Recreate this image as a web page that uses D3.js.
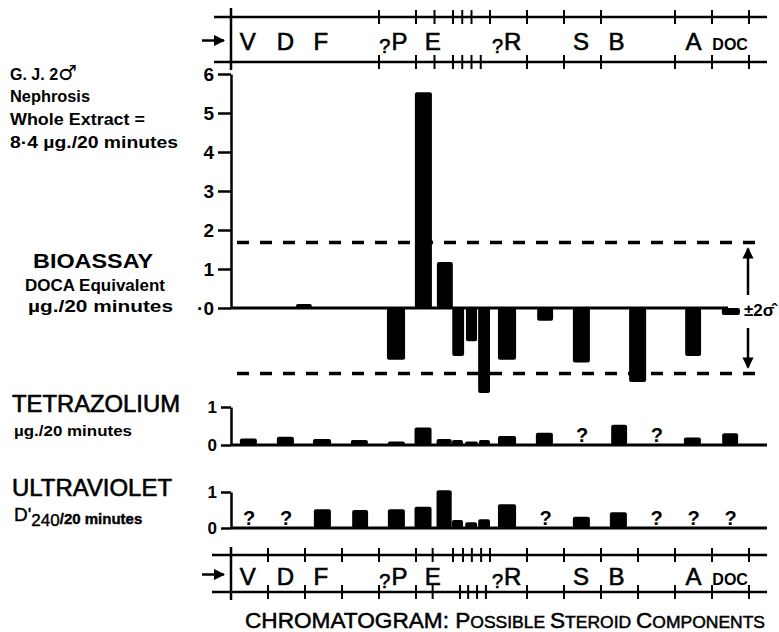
<!DOCTYPE html>
<html>
<head>
<meta charset="utf-8">
<script src="https://cdn.jsdelivr.net/npm/d3@7"></script>
<style>
body { margin: 0; background: #fff; }
svg { font-family: "Liberation Sans", Arial, sans-serif; }
</style>
</head>
<body>
<div id="chart"></div>
<script>
// Chromatogram positions are in strip units (one unit = one main tick interval)

// Component labels along the chromatogram strips
const stripLabels = ["V", "D", "F", "?P", "E", "?R", "S", "B", "A", "DOC"];
const stripLabelPos = [0.45, 1.47, 2.43, 4.39, 5.45, 7.45, 9.46, 10.42, 12.5, 13.49];

// Tick marks on the strips (top strip is missing some of them)
const topStripUpperTicks = [4, 5, 5.5, 6, 6.25, 6.5, 7, 8, 9, 10, 12, 13, 14];
const topStripLowerTicks = [4, 5, 5.5, 6, 6.25, 6.5, 6.75, 8, 9, 10, 12, 13, 14];
const botStripUpperTicks = [1, 2, 3, 4, 5, 5.45, 6, 6.27, 6.51, 6.76, 7, 8, 9, 10, 11, 12, 13, 14];
const botStripLowerTicks = [1, 2, 3, 4, 5, 5.45, 6.19, 6.41, 6.65, 6.89, 8, 9, 10, 11, 12, 13, 14];

// Bioassay (DOCA equivalent, ug/20 minutes)
const bioPos = [1.97, 4.46, 5.2, 5.78, 6.14, 6.5, 6.84, 7.46, 8.49, 9.47, 10.99, 12.49, 13.51];
const bioWidth = [0.43, 0.49, 0.46, 0.43, 0.32, 0.3, 0.32, 0.49, 0.43, 0.46, 0.46, 0.43, 0.49];
const bioValues = [0.1, -1.33, 5.53, 1.18, -1.23, -0.85, -2.18, -1.33, -0.33, -1.4, -1.9, -1.23, -0.18];
const bioTicks = [0, 1, 2, 3, 4, 5, 6];
const bioMinorTicks = [0.5, 1.5, 2.5, 3.5, 4.5, 5.5];
const twoSigma = 1.68;

// Tetrazolium (ug/20 minutes)
const tetraPos = [0.47, 1.47, 2.46, 3.47, 4.47, 5.19, 5.76, 6.12, 6.5, 6.85, 7.46, 8.47, 10.49, 12.47, 13.49];
const tetraWidth = [0.46, 0.46, 0.49, 0.46, 0.46, 0.46, 0.41, 0.3, 0.35, 0.3, 0.49, 0.46, 0.43, 0.46, 0.43];
const tetraValues = [0.17, 0.22, 0.16, 0.13, 0.09, 0.46, 0.16, 0.13, 0.09, 0.13, 0.24, 0.32, 0.53, 0.2, 0.31];
const tetraUnknown = [9.49, 11.51];

// Ultraviolet (D'240/20 minutes)
const uvPos = [2.47, 3.49, 4.47, 5.19, 5.76, 6.12, 6.49, 6.84, 7.46, 9.47, 10.47];
const uvWidth = [0.46, 0.43, 0.46, 0.46, 0.41, 0.3, 0.32, 0.32, 0.49, 0.46, 0.46];
const uvValues = [0.52, 0.5, 0.52, 0.59, 1.05, 0.22, 0.16, 0.24, 0.66, 0.31, 0.44];
const uvUnknown = [0.49, 1.49, 8.5, 11.5, 12.5, 13.5];

const smallTicks = [0, 1];
const smallMinorTicks = [0.5];

const width = 779, height = 632;

let svg = d3.select("#chart").append("svg")
    .attr("width", width)
    .attr("height", height);

svg.append("defs").append("marker")
    .attr("id", "head")
    .attr("viewBox", "0 0 10 10")
    .attr("refX", 9).attr("refY", 5)
    .attr("markerWidth", 4.5).attr("markerHeight", 4.5)
    .attr("markerUnits", "strokeWidth")
    .attr("orient", "auto")
    .append("path").attr("d", "M0,0L10,5L0,10Z").attr("fill", "#000");

// Shared x scale along the chromatogram
let x = d3.scaleLinear().domain([0, 14]).range([231, 749]);

// Draw one chromatogram strip with its labels
function drawStrip(y0, y1, upperTicks, lowerTicks, labelY, vTop, vBottom, lineStart) {
    let g = svg.append("g");
    [y0, y1].forEach(y => {
        g.append("line").attr("x1", lineStart).attr("x2", 767).attr("y1", y).attr("y2", y)
            .attr("stroke", "#000").attr("stroke-width", 2.5);
    });
    g.append("line").attr("x1", x(0)).attr("x2", x(0)).attr("y1", vTop).attr("y2", vBottom)
        .attr("stroke", "#000").attr("stroke-width", 2.5);
    g.selectAll(".tu").data(upperTicks).join("line")
        .attr("x1", d => x(d)).attr("x2", d => x(d))
        .attr("y1", y0 - 7).attr("y2", y0 + 7)
        .attr("stroke", "#000").attr("stroke-width", 2);
    g.selectAll(".tl").data(lowerTicks).join("line")
        .attr("x1", d => x(d)).attr("x2", d => x(d))
        .attr("y1", y1 - 7).attr("y2", y1 + 7)
        .attr("stroke", "#000").attr("stroke-width", 2);
    // the arrow showing the direction of flow
    let ay = (y0 + y1) / 2 + 1;
    g.append("line").attr("x1", 202).attr("x2", 224).attr("y1", ay).attr("y2", ay)
        .attr("stroke", "#000").attr("stroke-width", 2.5).attr("marker-end", "url(#head)");

    stripLabels.forEach((lab, i) => {
        let t = g.append("text").attr("x", x(stripLabelPos[i])).attr("y", labelY)
            .attr("text-anchor", "middle").attr("font-size", 24)
            .attr("stroke", "#000").attr("stroke-width", 0.6);
        if (lab[0] == "?") {
            t.append("tspan").attr("font-size", 20).attr("dy", 3).text("?");
            t.append("tspan").attr("dy", -3).attr("dx", 1).text(lab.slice(1));
        } else if (lab == "DOC") {
            t.attr("font-size", 16).attr("font-weight", "bold").attr("stroke-width", 0).text(lab);
        } else {
            t.text(lab);
        }
    });
}

drawStrip(17, 62, topStripUpperTicks, topStripLowerTicks, 50, 8, 70, 214);
drawStrip(555, 592, botStripUpperTicks, botStripLowerTicks, 585, 547, 600, 212);

// Left-aligned y axis with labelled major ticks and short minor ticks
function drawAxis(scale, majors, minors, fmt, fontSize, majorLen) {
    let g = svg.append("g").attr("transform", "translate(" + x(0) + ",0)");
    g.call(d3.axisLeft(scale).tickValues(minors).tickSize(7).tickSizeOuter(0).tickFormat(""));
    g.call(d3.axisLeft(scale).tickValues(majors).tickSize(majorLen).tickSizeOuter(0).tickPadding(4).tickFormat(fmt));
    g.selectAll("path, line").attr("stroke", "#000").attr("stroke-width", 2.5);
    g.selectAll("text").attr("font-size", fontSize).attr("font-weight", "bold")
        .attr("font-family", "Liberation Sans, Arial, sans-serif").attr("fill", "#000");
    return g;
}

// Bars from zero, positive or negative
function drawBars(scale, pos, widths, values) {
    svg.append("g").selectAll("rect").data(values).join("rect")
        .attr("x", (d, i) => x(pos[i] - widths[i] / 2))
        .attr("width", (d, i) => x(widths[i]) - x(0))
        .attr("y", d => scale(Math.max(0, d)))
        .attr("height", d => Math.abs(scale(d) - scale(0)))
        .attr("rx", 2)
        .attr("fill", "#000");
}

function drawUnknown(scale, pos) {
    svg.append("g").selectAll("text").data(pos).join("text")
        .attr("x", d => x(d)).attr("y", scale(0) - 3)
        .attr("text-anchor", "middle").attr("font-size", 20).attr("font-weight", "bold")
        .text("?");
}

// ---- Bioassay panel ----
let yBio = d3.scaleLinear().domain([0, 6]).range([308, 74]);
drawAxis(yBio, bioTicks, bioMinorTicks, d => d == 0 ? "·0" : d, 19, 13);

// +/- 2 sigma dashed limits
[twoSigma, -twoSigma].forEach(v => {
    svg.append("line").attr("x1", 237).attr("x2", 757).attr("y1", yBio(v)).attr("y2", yBio(v))
        .attr("stroke", "#000").attr("stroke-width", 3.5).attr("stroke-dasharray", "12,11");
});
drawBars(yBio, bioPos, bioWidth, bioValues);
svg.append("line").attr("x1", x(0)).attr("x2", 728).attr("y1", yBio(0)).attr("y2", yBio(0))
    .attr("stroke", "#000").attr("stroke-width", 3);

// arrows for the 2 sigma band
svg.append("line").attr("x1", 748).attr("x2", 748).attr("y1", yBio(0) - 13).attr("y2", yBio(twoSigma) + 6)
    .attr("stroke", "#000").attr("stroke-width", 2.5).attr("marker-end", "url(#head)");
svg.append("line").attr("x1", 748).attr("x2", 748).attr("y1", yBio(0) + 20).attr("y2", yBio(-twoSigma) - 6)
    .attr("stroke", "#000").attr("stroke-width", 2.5).attr("marker-end", "url(#head)");
svg.append("text").attr("x", 744).attr("y", 316).attr("font-size", 17).attr("font-weight", "bold")
    .text("±2σ\u0302");

// ---- Tetrazolium panel ----
let yTetra = d3.scaleLinear().domain([0, 1]).range([445, 407]);
drawAxis(yTetra, smallTicks, smallMinorTicks, d => d, 17, 10);
drawBars(yTetra, tetraPos, tetraWidth, tetraValues);
drawUnknown(yTetra, tetraUnknown);
svg.append("line").attr("x1", x(0)).attr("x2", 767).attr("y1", yTetra(0)).attr("y2", yTetra(0))
    .attr("stroke", "#000").attr("stroke-width", 3);

// ---- Ultraviolet panel ----
let yUV = d3.scaleLinear().domain([0, 1]).range([528, 492]);
drawAxis(yUV, smallTicks, smallMinorTicks, d => d, 17, 10);
drawBars(yUV, uvPos, uvWidth, uvValues);
drawUnknown(yUV, uvUnknown);
svg.append("line").attr("x1", x(0)).attr("x2", 767).attr("y1", yUV(0)).attr("y2", yUV(0))
    .attr("stroke", "#000").attr("stroke-width", 3);

// ---- Left hand labels ----
function label(txt, lx, ly, size, len, weight) {
    return svg.append("text").attr("x", lx).attr("y", ly).attr("font-size", size)
        .attr("font-weight", weight || "bold")
        .attr("textLength", len).attr("lengthAdjust", "spacingAndGlyphs")
        .text(txt);
}
let gj = svg.append("text").attr("x", 10).attr("y", 80).attr("font-size", 16).attr("font-weight", "bold");
gj.append("tspan").text("G. J.  2");
gj.append("tspan").attr("font-size", 21).attr("font-family", "DejaVu Sans").text("♂");
label("Nephrosis", 10, 102, 16, 80);
label("Whole Extract =", 10, 125, 16, 135);
label("8·4 µg./20 minutes", 10, 148, 16, 168);

label("BIOASSAY", 33, 268, 21, 120);
label("DOCA Equivalent", 25, 291, 16, 140);
label("µg./20 minutes", 28, 312, 17, 145);

label("TETRAZOLIUM", 12, 412, 23, 168, "normal").attr("stroke", "#000").attr("stroke-width", 0.6);
label("µg./20 minutes", 14, 436, 15, 118);

label("ULTRAVIOLET", 12, 496, 23, 160, "normal").attr("stroke", "#000").attr("stroke-width", 0.6);
let uvUnit = svg.append("text").attr("x", 14).attr("y", 521).attr("font-size", 19)
    .attr("stroke", "#000").attr("stroke-width", 0.4);
uvUnit.append("tspan").text("D'");
uvUnit.append("tspan").attr("dy", 5).attr("font-size", 17).text("240");
uvUnit.append("tspan").attr("dy", -2).attr("font-size", 15).attr("font-weight", "bold").text("/20 minutes");

// ---- Chromatogram title (small caps) ----
let title = svg.append("text").attr("x", 245).attr("y", 628).attr("font-size", 22)
    .attr("stroke", "#000").attr("stroke-width", 0.5)
    .attr("textLength", 520).attr("lengthAdjust", "spacingAndGlyphs");
[["CHROMATOGRAM: ", ""], ["P", "OSSIBLE "], ["S", "TEROID "], ["C", "OMPONENTS"]].forEach(p => {
    title.append("tspan").text(p[0]);
    if (p[1]) title.append("tspan").attr("font-size", 17).text(p[1]);
});
</script>
</body>
</html>
